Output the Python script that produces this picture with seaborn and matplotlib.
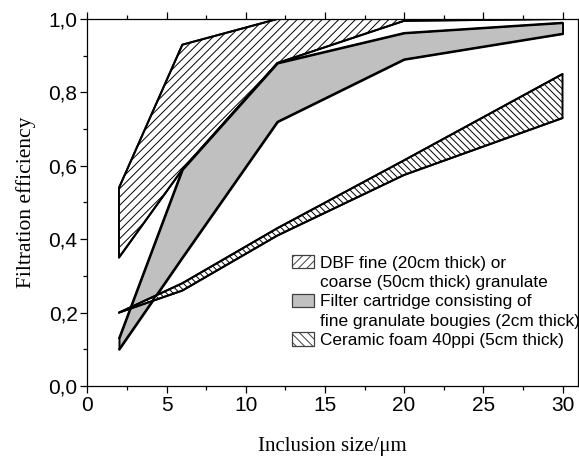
import matplotlib
matplotlib.use("Agg")
import matplotlib.pyplot as plt
import seaborn as sns
import pandas as pd
from matplotlib.patches import Patch
from matplotlib.ticker import MultipleLocator, FixedLocator, FixedFormatter

# ---------------- data ----------------
sizes = [2, 6, 12, 20, 30]

dbf_upper = [0.54, 0.93, 1.00, 1.00, 1.00]
dbf_lower = [0.35, 0.59, 0.88, 0.995, 1.00]

cart_upper = [0.13, 0.59, 0.88, 0.962, 0.99]
cart_lower = [0.10, 0.35, 0.72, 0.89, 0.96]

foam_upper = [0.20, 0.28, 0.43, 0.615, 0.85]
foam_lower = [0.20, 0.26, 0.41, 0.575, 0.73]

x_ticks = [0, 5, 10, 15, 20, 25, 30]
x_tick_labels = ["0", "5", "10", "15", "20", "25", "30"]
y_ticks = [0.0, 0.2, 0.4, 0.6, 0.8, 1.0]
y_tick_labels = ["0,0", "0,2", "0,4", "0,6", "0,8", "1,0"]

legend_labels = [
    "DBF fine (20cm thick) or",
    "coarse (50cm thick) granulate",
    "Filter cartridge consisting of",
    "fine granulate bougies (2cm thick)",
    "Ceramic foam 40ppi (5cm thick)",
]

# ---------------- style ----------------
sns.set_theme(style="ticks")
plt.rcParams["font.family"] = ["Liberation Sans", "DejaVu Sans"]
plt.rcParams["hatch.linewidth"] = 0.7
plt.rcParams["axes.linewidth"] = 0.9

fig = plt.figure(figsize=(5.79, 4.61), dpi=100)
ax = fig.add_axes([0.1508, 0.1627, 0.8470, 0.7961])

edge_lw = 1.4

# hatched DBF band
ax.fill_between(sizes, dbf_lower, dbf_upper, facecolor="white",
                edgecolor="black", hatch="////", linewidth=edge_lw, zorder=2)
# grey cartridge band
ax.fill_between(sizes, cart_lower, cart_upper, facecolor="#c0c0c0",
                edgecolor="black", linewidth=edge_lw, zorder=3)
# hatched ceramic foam band
ax.fill_between(sizes, foam_lower, foam_upper, facecolor="white",
                edgecolor="black", hatch="\\\\\\\\\\", linewidth=edge_lw, zorder=4)

# boundary lines through seaborn
long = pd.DataFrame({
    "size": sizes * 6,
    "eff": dbf_upper + dbf_lower + cart_upper + cart_lower + foam_upper + foam_lower,
    "curve": sum([[c] * len(sizes) for c in
                  ["du", "dl", "cu", "cl", "fu", "fl"]], []),
})
sns.lineplot(data=long, x="size", y="eff", units="curve", estimator=None,
             color="black", linewidth=edge_lw, ax=ax, zorder=5, legend=False)

ax.set_xlim(0, 30.96)
ax.set_ylim(0, 1.0)

ax.xaxis.set_major_locator(FixedLocator(x_ticks))
ax.xaxis.set_major_formatter(FixedFormatter(x_tick_labels))
ax.yaxis.set_major_locator(FixedLocator(y_ticks))
ax.yaxis.set_major_formatter(FixedFormatter(y_tick_labels))
ax.xaxis.set_minor_locator(MultipleLocator(2.5))
ax.yaxis.set_minor_locator(MultipleLocator(0.1))

for s in ax.spines.values():
    s.set_visible(True)
    s.set_color("black")
    s.set_linewidth(0.9)

ax.tick_params(which="both", direction="out", top=True, right=True,
               colors="black", width=0.9, labelsize=15)
ax.tick_params(axis="y", which="both", right=True, labelright=False)
ax.tick_params(axis="x", which="both", top=True, labeltop=False)
ax.tick_params(which="major", length=5)
ax.tick_params(which="minor", length=3)
ax.tick_params(axis="x", which="both", pad=2)
ax.tick_params(axis="y", which="both", pad=2)

ax.set_xlabel("Inclusion size/\u03bcm", fontfamily="Liberation Serif",
              fontsize=15, labelpad=16, color="black")
ax.set_ylabel("Filtration efficiency", fontfamily="Liberation Serif",
              fontsize=15.5, labelpad=9, color="black")

# legend: patch aligned with first line of each entry
h_dbf = Patch(facecolor="white", edgecolor="#404040", hatch="////", linewidth=0.9)
h_cart = Patch(facecolor="#c0c0c0", edgecolor="#404040", linewidth=0.9)
h_foam = Patch(facecolor="white", edgecolor="#404040", hatch="\\\\\\\\", linewidth=0.9)
blank = Patch(facecolor="none", edgecolor="none")
leg = ax.legend([h_dbf, blank, h_cart, blank, h_foam], legend_labels,
                loc="upper left", bbox_to_anchor=(292 / 579, 1 - 255 / 461),
                bbox_transform=fig.transFigure, frameon=False, fontsize=12.4,
                borderpad=0, borderaxespad=0, handlelength=1.25,
                handleheight=0.8, handletextpad=0.4, labelspacing=0.22)
for t in leg.get_texts():
    t.set_color("black")

fig.savefig("out.png", dpi=100)
